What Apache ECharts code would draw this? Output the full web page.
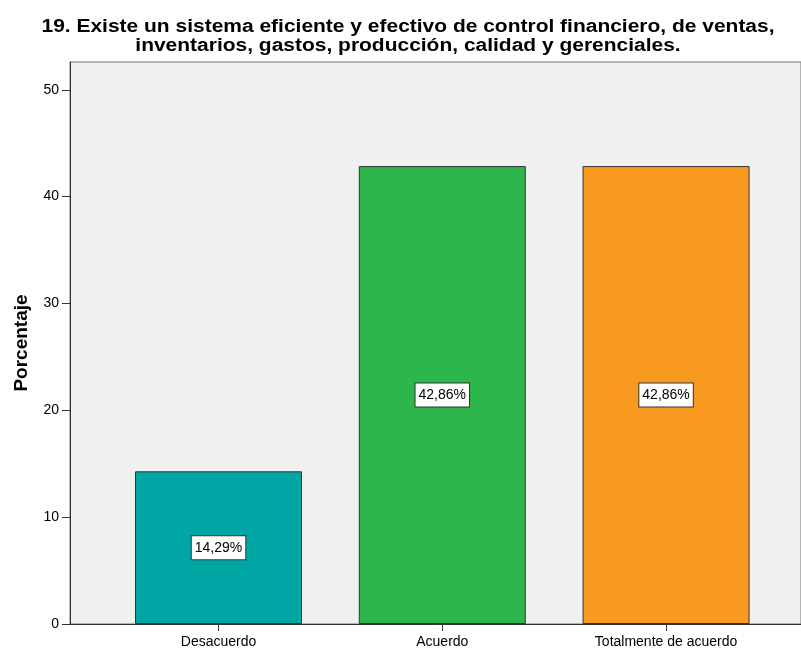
<!DOCTYPE html>
<html>
<head>
<meta charset="utf-8">
<script src="https://cdn.jsdelivr.net/npm/echarts@6/dist/echarts.min.js"></script>
<style>
html,body{margin:0;padding:0;background:#fff;}
#chart{width:801px;height:650px;}
</style>
</head>
<body>
<div id="chart"></div>
<script>
// Response categories and their percentages
const categories = ['Desacuerdo', 'Acuerdo', 'Totalmente de acuerdo'];
const percentages = [14.29, 42.86, 42.86];
const barColors = ['#00A6A4', '#2DB64B', '#F89A20'];
const yTicks = [0, 10, 20, 30, 40, 50];
const titleLines = [
  '19. Existe un sistema eficiente y efectivo de control financiero, de ventas,',
  'inventarios, gastos, producción, calidad y gerenciales.'
];

const chart = echarts.init(document.getElementById('chart'));

// Categories are placed at 1, 2, 3 on a numeric axis; the frame runs on past the last bar
const positions = categories.map((c, i) => i + 1);

// Title lines: bold, slightly widened
const titleGraphics = titleLines.map((line, i) => ({
  type: 'text',
  x: 408,
  y: 27 + i * 19,
  scaleX: 1.165,
  style: {
    text: line,
    font: 'bold 18px "Liberation Sans"',
    fill: '#000',
    align: 'center',
    verticalAlign: 'middle'
  }
}));

chart.setOption({
  animation: false,
  graphic: titleGraphics,
  grid: {
    left: 70,
    right: 0,
    top: 62,
    bottom: 26,
    show: true,
    backgroundColor: '#F0F0F0',
    borderColor: '#777',
    borderWidth: 1
  },
  xAxis: {
    type: 'value',
    min: 0.3363,
    max: 3.603,
    splitLine: { show: false },
    axisLine: { show: true, lineStyle: { color: '#333', width: 1 } },
    axisTick: { show: true, length: 7, lineStyle: { color: '#333' }, customValues: positions },
    axisLabel: {
      customValues: positions,
      formatter: v => categories[Math.round(v) - 1] || '',
      color: '#000',
      fontFamily: 'Liberation Sans',
      fontSize: 14,
      margin: 11
    }
  },
  yAxis: {
    type: 'value',
    min: 0,
    max: 52.6,
    name: 'Porcentaje',
    nameLocation: 'middle',
    nameGap: 39,
    nameTextStyle: { fontFamily: 'Liberation Sans', fontSize: 19, fontWeight: 'bold', color: '#000' },
    splitLine: { show: false },
    axisLine: { show: true, lineStyle: { color: '#333', width: 1 } },
    axisTick: { show: true, length: 8, lineStyle: { color: '#333' }, customValues: yTicks },
    axisLabel: {
      customValues: yTicks,
      color: '#000',
      fontFamily: 'Liberation Sans',
      fontSize: 14,
      margin: 11
    }
  },
  series: [{
    type: 'bar',
    barWidth: 167,
    data: percentages.map((v, i) => ({
      value: [positions[i], v],
      itemStyle: { color: barColors[i], borderColor: '#333', borderWidth: 1 }
    })),
    label: {
      show: true,
      position: 'inside',
      formatter: p => p.value[1].toFixed(2).replace('.', ',') + '%',
      color: '#000',
      fontFamily: 'Liberation Sans',
      fontSize: 14,
      lineHeight: 16,
      backgroundColor: '#fff',
      borderColor: '#333',
      borderWidth: 1,
      padding: [4, 3, 3, 3]
    }
  }]
});
</script>
</body>
</html>
